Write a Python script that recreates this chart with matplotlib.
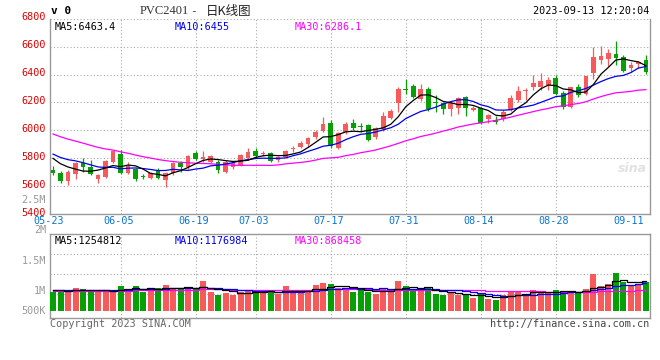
import matplotlib
matplotlib.use("Agg")
import matplotlib.pyplot as plt
import matplotlib.transforms as mtransforms
import pandas as pd

# daily K-line for PVC2401, 2023-05-23 .. 2023-09-13
date_labels = ["05-23", "06-05", "06-19", "07-03", "07-17", "07-31", "08-14", "08-28", "09-11"]
date_pos = [0, 9, 19, 27, 37, 47, 57, 67, 77]

opens = [5716, 5693, 5640, 5685, 5764, 5736, 5650, 5664, 5776, 5829,
         5697, 5721, 5668, 5661, 5708, 5645, 5697, 5764, 5736, 5840,
         5793, 5776, 5776, 5704, 5740, 5752, 5800, 5852, 5833, 5836,
         5788, 5811, 5868, 5883, 5902, 5950, 5998, 6055, 5876, 5990,
         6050, 6030, 6038, 5950, 6007, 6086, 6194, 6292, 6317, 6222,
         6296, 6200, 6193, 6150, 6158, 6236, 6146, 6158, 6079, 6074,
         6078, 6146, 6217, 6282, 6312, 6312, 6326, 6374, 6270, 6165,
         6308, 6260, 6410, 6505, 6513, 6544, 6522, 6450, 6475, 6505]
highs = [5745, 5705, 5712, 5770, 5800, 5788, 5685, 5785, 5855, 5862,
         5776, 5730, 5690, 5700, 5730, 5700, 5775, 5780, 5826, 5850,
         5850, 5825, 5790, 5790, 5780, 5830, 5876, 5876, 5855, 5845,
         5815, 5860, 5885, 5925, 5955, 6000, 6098, 6075, 5990, 6060,
         6079, 6050, 6045, 6025, 6134, 6150, 6310, 6367, 6330, 6332,
         6310, 6250, 6205, 6210, 6240, 6245, 6175, 6165, 6115, 6100,
         6145, 6250, 6317, 6300, 6398, 6410, 6385, 6400, 6280, 6310,
         6332, 6390, 6598, 6603, 6585, 6639, 6540, 6490, 6500, 6539]
lows = [5678, 5625, 5610, 5650, 5704, 5680, 5621, 5655, 5765, 5690,
        5685, 5633, 5650, 5650, 5650, 5597, 5680, 5700, 5725, 5785,
        5775, 5765, 5697, 5697, 5725, 5745, 5790, 5812, 5815, 5770,
        5770, 5800, 5845, 5875, 5880, 5935, 5985, 5870, 5865, 5975,
        6000, 5985, 5925, 5935, 5995, 6080, 6130, 6260, 6230, 6210,
        6140, 6130, 6115, 6100, 6115, 6105, 6135, 6045, 6050, 6043,
        6070, 6140, 6200, 6220, 6290, 6290, 6290, 6250, 6150, 6160,
        6240, 6250, 6365, 6475, 6460, 6469, 6420, 6420, 6450, 6401]
closes = [5693, 5638, 5704, 5764, 5740, 5686, 5680, 5780, 5852, 5697,
          5745, 5652, 5664, 5697, 5661, 5693, 5764, 5736, 5816, 5793,
          5811, 5816, 5716, 5776, 5764, 5824, 5847, 5816, 5838, 5783,
          5807, 5854, 5872, 5907, 5947, 5990, 6045, 5884, 5979, 6045,
          6015, 6026, 5931, 6015, 6103, 6139, 6296, 6289, 6241, 6296,
          6150, 6198, 6150, 6193, 6229, 6158, 6162, 6051, 6110, 6058,
          6133, 6229, 6282, 6286, 6337, 6355, 6362, 6262, 6165, 6308,
          6253, 6387, 6525, 6536, 6553, 6518, 6427, 6465, 6490, 6417]
volumes = [840, 884, 884, 1003, 959, 840, 840, 884, 915, 1092,
           959, 1092, 840, 959, 1003, 1136, 1003, 1003, 1003, 959,
           1313, 826, 694, 796, 694, 840, 884, 840, 840, 915,
           738, 1092, 769, 857, 857, 1136, 1238, 1180, 990, 990,
           840, 915, 840, 738, 990, 840, 1313, 1092, 915, 915,
           990, 738, 694, 769, 694, 694, 575, 738, 516, 473,
           694, 840, 840, 738, 915, 840, 796, 915, 870, 870,
           769, 959, 1622, 1092, 1180, 1680, 1255, 1092, 1180, 1282]
volumes = [v * 1000 for v in volumes]

# sessions before 05-23 (off chart), only used for the moving averages
prior_closes = [6230, 6210, 6190, 6180, 6150, 6130, 6120, 6090, 6070, 6060,
                6040, 6010, 5990, 5970, 5950, 5940, 5920, 5900, 5890, 5870,
                5880, 5860, 5850, 5870, 5840, 5830, 5820, 5840, 5810]
prior_volumes = [820, 860, 790, 840, 880, 810, 850, 800, 830, 870,
                 820, 790, 850, 880, 800, 830, 860, 820, 850, 870,
                 900, 880, 860, 900, 870, 940, 920, 880, 960]
prior_volumes = [v * 1000 for v in prior_volumes]

RED = "#f65a5a"
GREEN = "#06a006"
MONO = "DejaVu Sans Mono"

n = len(closes)
x = list(range(n))
up = [c >= o for o, c in zip(opens, closes)]
cols = [RED if u else GREEN for u in up]

cs = pd.Series(prior_closes + closes)
vs = pd.Series(prior_volumes + volumes)
k = len(prior_closes)
ma = {w: cs.rolling(w).mean().iloc[k:].values for w in (5, 10, 30)}
vma = {w: vs.rolling(w).mean().iloc[k:].values for w in (5, 10, 30)}

W, H = 660, 360
fig = plt.figure(figsize=(6.6, 3.6), dpi=100)
fig.patch.set_facecolor("white")

def fx(px):
    return px / W

def fy(py):
    return 1 - py / H

ax = fig.add_axes([fx(50), fy(214), fx(600), (214 - 18.7) / H])
av = fig.add_axes([fx(50), fy(318.3), fx(600), (318.3 - 234.3) / H])

xlim = (-0.4, 79.55)

# price panel
body_lo = [min(o, c) for o, c in zip(opens, closes)]
body_h = [max(abs(c - o), 6) for o, c in zip(opens, closes)]
ax.vlines(x, lows, highs, colors=cols, linewidth=0.9, zorder=3)
ax.bar(x, body_h, bottom=body_lo, width=0.62, color=cols, linewidth=0, zorder=4)
ax.plot(x, ma[30], color="#ff00ff", linewidth=0.9, zorder=5)
ax.plot(x, ma[10], color="#0000ee", linewidth=0.9, zorder=5)
ax.plot(x, ma[5], color="black", linewidth=0.9, zorder=5)

ax.set_xlim(*xlim)
ax.set_ylim(5400, 6800)
ax.set_yticks(range(5400, 6801, 200))
ax.set_yticklabels([str(v) for v in range(5400, 6801, 200)],
                   color="#e00000", fontfamily=MONO, fontsize=7.3)
ax.tick_params(axis="y", length=0, pad=3)
lift = mtransforms.ScaledTranslation(0, 2.5 / 100, fig.dpi_scale_trans)
for lab in ax.get_yticklabels():
    lab.set_transform(lab.get_transform() + lift)
ax.set_xticks([])
for p in date_pos[1:-1]:
    ax.axvline(p, color="#aaaaaa", linewidth=0.8, linestyle=(0, (1, 2)), zorder=1)
for v in range(5600, 6801, 200):
    ax.axhline(v, color="#aaaaaa", linewidth=0.8, linestyle=(0, (1, 2)), zorder=1)
for s in ("left", "right", "bottom"):
    ax.spines[s].set_color("#999999")
    ax.spines[s].set_linewidth(1)
ax.spines["top"].set_visible(False)

ax.text(0.008, 0.985, "MA5:%.1f" % ma[5][-1], transform=ax.transAxes, ha="left", va="top",
        fontfamily=MONO, fontsize=7.3, color="black")
ax.text(0.208, 0.985, "MA10:%.0f" % 6455, transform=ax.transAxes, ha="left", va="top",
        fontfamily=MONO, fontsize=7.3, color="#0000ee")
ax.text(0.408, 0.985, "MA30:%.1f" % 6286.1, transform=ax.transAxes, ha="left", va="top",
        fontfamily=MONO, fontsize=7.3, color="#ff00ff")

# volume panel
av.bar(x, volumes, width=0.8, color=cols, linewidth=0, zorder=3)
av.plot(x, vma[30], color="#ff00ff", linewidth=0.9, drawstyle="steps-mid", zorder=4)
av.plot(x, vma[10], color="#0000ee", linewidth=0.9, drawstyle="steps-mid", zorder=4)
av.plot(x, vma[5], color="black", linewidth=0.9, drawstyle="steps-mid", zorder=4)
px_per_vol = 44200.0
av.set_ylim(-7.6 * px_per_vol, 76.4 * px_per_vol)
av.set_xlim(*xlim)
av.set_xticks([])
av.set_yticks([])
for p in date_pos[1:-1]:
    av.axvline(p, color="#aaaaaa", linewidth=0.8, linestyle=(0, (1, 2)), zorder=1)
for py in (56.4, 36.4, 16.4):
    av.axhline(py * px_per_vol, color="#aaaaaa", linewidth=0.8, linestyle=(0, (1, 2)), zorder=1)
for s in av.spines.values():
    s.set_color("#999999")
    s.set_linewidth(1)

av.text(0.008, 0.985, "MA5:1254812", transform=av.transAxes, ha="left", va="top",
        fontfamily=MONO, fontsize=7.3, color="black", zorder=6)
av.text(0.208, 0.985, "MA10:1176984", transform=av.transAxes, ha="left", va="top",
        fontfamily=MONO, fontsize=7.3, color="#0000ee", zorder=6)
av.text(0.408, 0.985, "MA30:868458", transform=av.transAxes, ha="left", va="top",
        fontfamily=MONO, fontsize=7.3, color="#ff00ff", zorder=6)

# volume scale labels as drawn by the source chart
for lab, py in (("2.5M", 200), ("2M", 230), ("1.5M", 260.7), ("1M", 290.7), ("500K", 310.7)):
    fig.text(fx(46), fy(py), lab, ha="right", va="center", fontfamily=MONO,
             fontsize=7.3, color="#999999")

# date labels between the panels
for lab, p in zip(date_labels, date_pos):
    xp = 49 if p == 0 else 53 + (p - 0.2) * 7.5
    fig.text(fx(xp), fy(221.5), lab, ha="center", va="center", fontfamily=MONO,
             fontsize=7.3, color="#0a74d0")

# header
fig.text(fx(51), fy(11.5), "v 0", ha="left", va="center", fontfamily=MONO,
         fontsize=8, fontweight="bold", color="black")
fig.text(fx(140), fy(11.5), "PVC2401", ha="left", va="center", fontfamily="Liberation Serif",
         fontsize=9, color="#333333")
fig.text(fx(190), fy(11.5), "-", ha="left", va="center", fontfamily=MONO,
         fontsize=8, color="#333333")
fig.text(fx(206), fy(11.5), "日K线图", ha="left", va="center",
         fontfamily=["Noto Sans CJK SC", "DejaVu Sans"], fontsize=9, color="#222222")
fig.text(fx(649), fy(11.5), "2023-09-13 12:20:04", ha="right", va="center", fontfamily=MONO,
         fontsize=7.3, color="black")

# footer
fig.text(fx(50), fy(324), "Copyright 2023 SINA.COM", ha="left", va="center", fontfamily=MONO,
         fontsize=7.3, color="#666666")
fig.text(fx(649), fy(324), "http://finance.sina.com.cn", ha="right", va="center",
         fontfamily=MONO, fontsize=7.3, color="#444444")

# faint watermark
fig.text(fx(632), fy(168), "sina", ha="center", va="center", fontsize=9, fontstyle="italic",
         fontweight="bold", color="#e2e2e2", zorder=0)

fig.savefig("out.png", dpi=100, facecolor="white")
